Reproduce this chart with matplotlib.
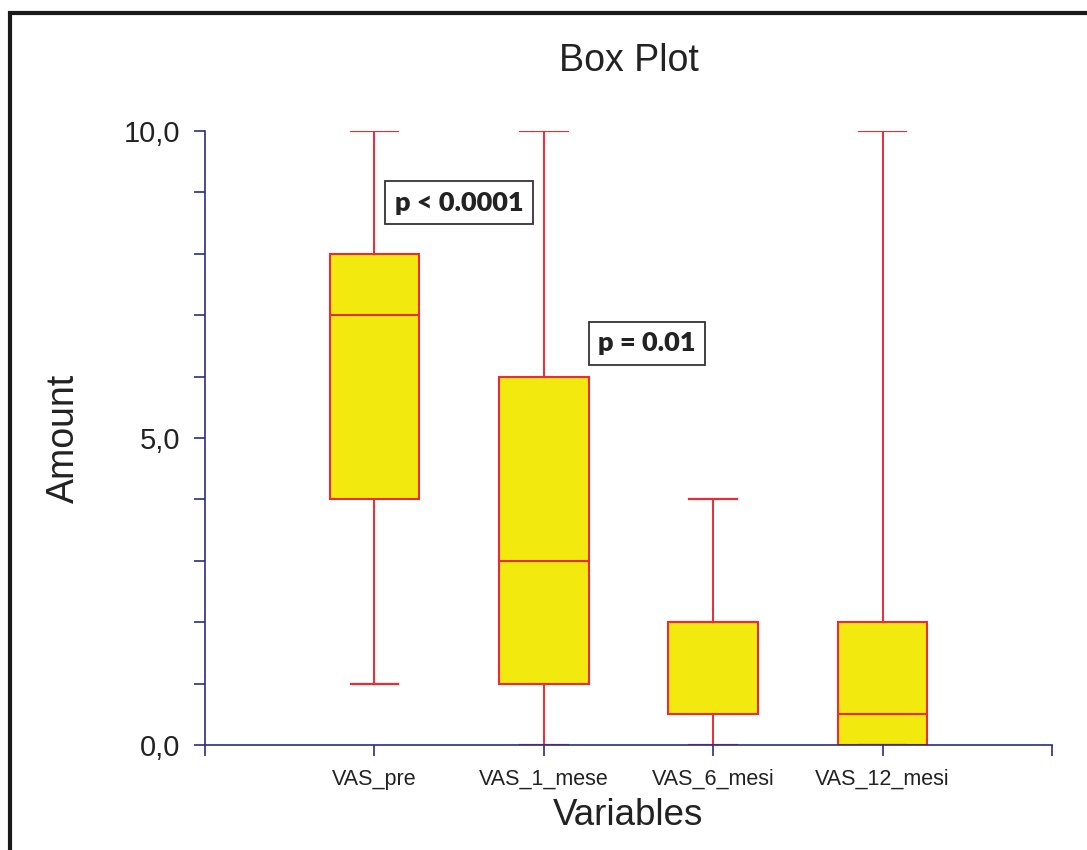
import matplotlib
matplotlib.use("Agg")
import matplotlib.pyplot as plt
from matplotlib.patches import Rectangle

plt.rcParams['font.family'] = ['Liberation Sans', 'DejaVu Sans']

# dati
variabili = ['VAS_pre', 'VAS_1_mese', 'VAS_6_mesi', 'VAS_12_mesi']
minimi = [1, 0, 0, 0]
q1 = [4, 1, 0.5, 0]
mediane = [7, 3, 2, 0.5]
q3 = [8, 6, 2, 2]
massimi = [10, 10, 4, 10]

p_testi = ['p < 0.0001', 'p = 0.01']
p_x = [1.5, 2.61]
p_y = [8.83, 6.54]

blu = '#2b2d83'
rosso = '#ee2a34'
giallo = '#f2ea0e'

stats = []
for nome, lo, a, m, b, hi in zip(variabili, minimi, q1, mediane, q3, massimi):
    stats.append({'label': nome, 'whislo': lo, 'q1': a, 'med': m, 'q3': b, 'whishi': hi, 'fliers': []})

fig = plt.figure(figsize=(10.87, 8.5), dpi=100)
ax = fig.add_axes([0.1886, 0.1235, 0.7792, 0.7224])

ax.bxp(stats, positions=[1, 2, 3, 4], widths=0.53, patch_artist=True,
       showfliers=False,
       boxprops=dict(facecolor=giallo, edgecolor=rosso, linewidth=1.5),
       medianprops=dict(color=rosso, linewidth=1.5),
       whiskerprops=dict(color=rosso, linewidth=1.4),
       capprops=dict(color=rosso, linewidth=1.6),
       capwidths=0.28)

ax.set_xlim(0, 5)
ax.set_ylim(0, 10)
ax.set_xticks([0, 1, 2, 3, 4, 5])
ax.set_xticklabels([''] + variabili + [''], fontsize=15.5, color='#222222')
ax.set_yticks([0, 5, 10])
ax.set_yticklabels(['0,0', '5,0', '10,0'], fontsize=21, color='#222222')
ax.set_yticks(range(0, 11), minor=True)
ax.tick_params(axis='y', which='both', direction='out', length=8, width=1.2, color=blu, pad=10)
ax.tick_params(axis='x', direction='out', length=8, width=1.2, color=blu, pad=9)

for s in ['top', 'right']:
    ax.spines[s].set_visible(False)
for s in ['left', 'bottom']:
    ax.spines[s].set_color(blu)
    ax.spines[s].set_linewidth(1.2)

ax.set_title('Box Plot', fontsize=27, color='#222222', pad=43)
ax.set_ylabel('Amount', fontsize=27, color='#222222', labelpad=30)
ax.set_xlabel('Variables', fontsize=26.5, color='#222222', labelpad=6)

for t, x, y in zip(p_testi, p_x, p_y):
    ax.text(x, y, t, ha='center', va='center', fontsize=19.5, fontweight='heavy',
            family=['Lato', 'DejaVu Sans'], color='#222222',
            bbox=dict(boxstyle='square,pad=0.35', facecolor='white', edgecolor='#333333', linewidth=1.3))

# cornice esterna
fig.patches.append(Rectangle((0.0095, -0.1), 1.2, 1.0847, transform=fig.transFigure,
                             fill=False, edgecolor='#1a1a1a', linewidth=3))

fig.savefig('out.png', dpi=100)
